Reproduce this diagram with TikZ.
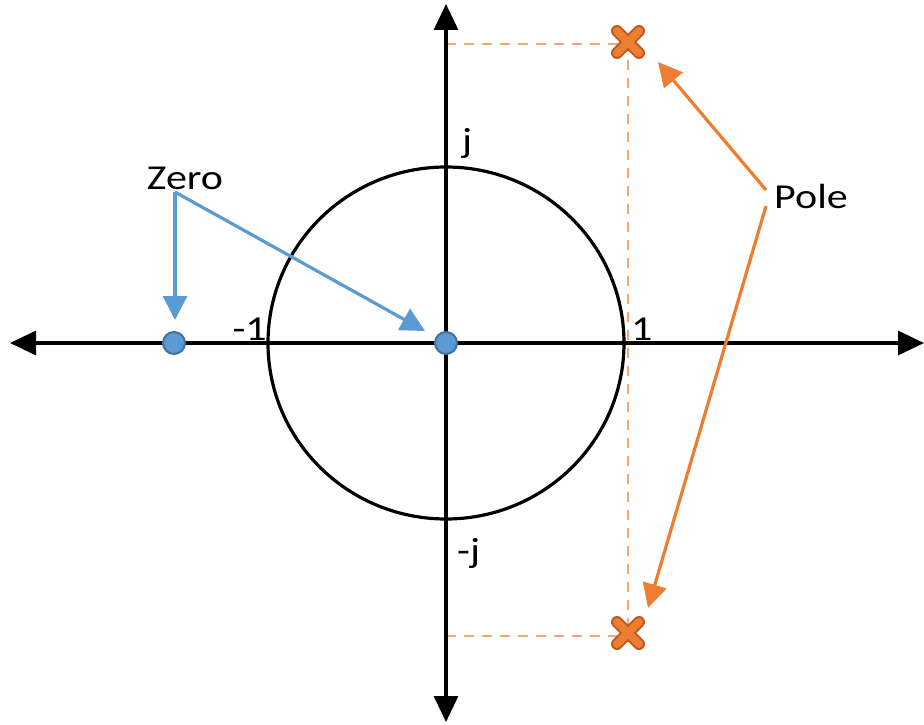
\documentclass[tikz,border=0pt]{standalone}
\usepackage{fontspec}
\setmainfont{Carlito}
\usetikzlibrary{arrows.meta,calc}
\definecolor{zblue}{RGB}{91,155,213}
\definecolor{zblueD}{RGB}{65,113,156}
\definecolor{porange}{RGB}{237,125,49}
\definecolor{porangeD}{RGB}{190,90,30}
\definecolor{dorange}{RGB}{244,167,115}
\tikzset{
  axis/.style={line width=3.2pt,-{Triangle[length=26pt,width=24pt]}},
  zeroarrow/.style={draw=zblue,line width=3.2pt,-{Triangle[length=24pt,width=24pt]}},
  polearrow/.style={draw=porange,line width=3.2pt,-{Triangle[length=24pt,width=24pt]}},
  zerodot/.style={circle,fill=zblue,draw=zblueD,line width=2pt,minimum size=22pt,inner sep=0pt},
  guide/.style={draw=dorange,line width=2pt,dash pattern=on 10pt off 8pt},
  lbl/.style={font=\fontsize{35}{35}\selectfont,inner sep=0pt,xscale=1.2},
  polemark/.style={draw=porangeD,line width=12pt,line cap=round},
  polefill/.style={draw=porange,line width=8pt,line cap=round}
}
\begin{document}
\begin{tikzpicture}[x=1pt,y=-1pt]
\useasboundingbox (0,0) rectangle (924,725);
\coordinate (O) at (446,343);
\coordinate (L) at (10,343);
\coordinate (R) at (924,343);
\coordinate (T) at (446,4);
\coordinate (B) at (446,722);
% dashed guides
\coordinate (P1) at (628,42);
\coordinate (P2) at (628,633);
\coordinate (G1) at (446,44);
\coordinate (G2) at (446,636);
\draw[guide] (G1) -- (P1 |- G1) -- (P2);
\draw[guide] (G2) -- (P2 |- G2);
% axes
\draw[axis] (O) -- (L);
\draw[axis] (O) -- (R);
\draw[axis] (O) -- (T);
\draw[axis] (O) -- (B);
% unit circle
\draw[line width=3.2pt] (O) ellipse [x radius=178, y radius=176];
% zeros
\node[zerodot] (z1) at (174,343) {};
\node[zerodot] (z0) at (O) {};
% poles
\foreach \p in {P1,P2}{
  \draw[polemark] ($(\p)+(-11,-11)$) -- ($(\p)+(11,11)$);
  \draw[polemark] ($(\p)+(-11,11)$) -- ($(\p)+(11,-11)$);
  \draw[polefill] ($(\p)+(-11,-11)$) -- ($(\p)+(11,11)$);
  \draw[polefill] ($(\p)+(-11,11)$) -- ($(\p)+(11,-11)$);
}
% labels
\node[lbl,anchor=base] (zero) at (185,189) {Zero};
\node[lbl,anchor=base west] (pole) at (774,208) {Pole};
\node[lbl,anchor=base west] (jl) at (462,152) {j};
\node[lbl,anchor=base west] (mjl) at (457,562) {-j};
\node[lbl,anchor=base east] (m1) at (267,340) {-1};
\node[lbl,anchor=base west] (one) at (631,340) {1};
% arrows
\coordinate (zs) at (175,192);
\draw[zeroarrow] (zs) -- (175,320);
\draw[zeroarrow] (zs) -- (425,331);
\coordinate (ps1) at (766,190);
\coordinate (ps2) at (766,206);
\draw[polearrow] (ps1) -- (658,62);
\draw[polearrow] (ps2) -- (648,608);
\end{tikzpicture}
\end{document}
